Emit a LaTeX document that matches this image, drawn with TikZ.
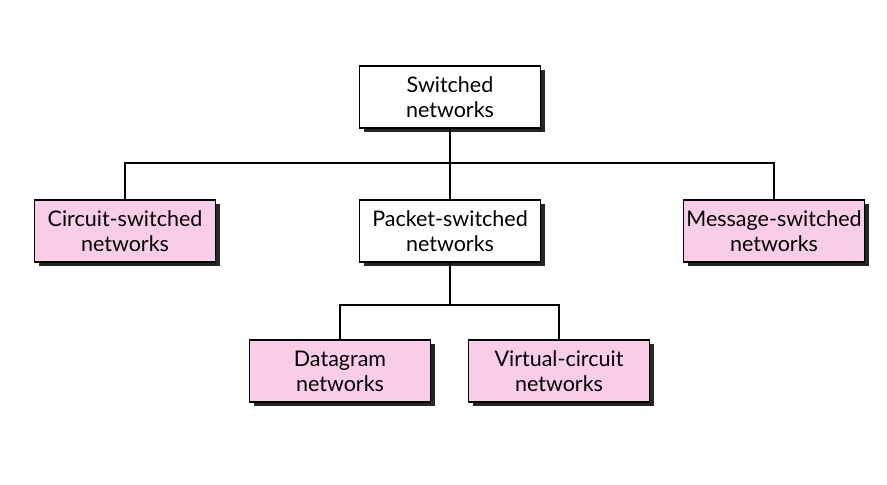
\documentclass[tikz,border=0pt]{standalone}
\usepackage{fontspec}
\setmainfont{Lato}
\usepackage{tikz}
\usetikzlibrary{positioning, shadows}
\definecolor{netpink}{RGB}{250,205,230}

\tikzset{
  netbox/.style={draw, line width=1.4pt, minimum width=181pt, minimum height=62pt,
    align=center, font=\fontsize{21.5}{25}\selectfont, inner sep=2pt,
    drop shadow={shadow xshift=4pt, shadow yshift=-4pt, fill=black!85, opacity=1}},
  whitebox/.style={netbox, fill=white},
  pinkbox/.style={netbox, fill=netpink},
  link/.style={line width=1.4pt}
}

\begin{document}
\begin{tikzpicture}[x=1pt, y=-1pt, line cap=rect, line join=miter]
    % frame of the picture
    \useasboundingbox (0,0) rectangle (887,485);

    % top level
    \node[whitebox] (switched) at (450,97) {Switched\\networks};

    % second level
    \node[pinkbox]  (circuit) at (125,231) {Circuit-switched\\networks};
    \node[whitebox] (packet)  at (450,231) {Packet-switched\\networks};
    \node[pinkbox]  (message) at (774,231) {Message-switched\\networks};

    % third level
    \node[pinkbox] (datagram) at (340,371) {Datagram\\networks};
    \node[pinkbox] (virtual)  at (559,371) {Virtual-circuit\\networks};

    % branch points
    \coordinate (bus) at (450,163);
    \coordinate (subbus) at (450,305);

    % connectors
    \draw[link] (switched.south) -- (packet.north);
    \draw[link] (circuit.north) |- (bus) -| (message.north);
    \draw[link] (packet.south) -- (subbus);
    \draw[link] (datagram.north) |- (subbus) -| (virtual.north);
\end{tikzpicture}
\end{document}
